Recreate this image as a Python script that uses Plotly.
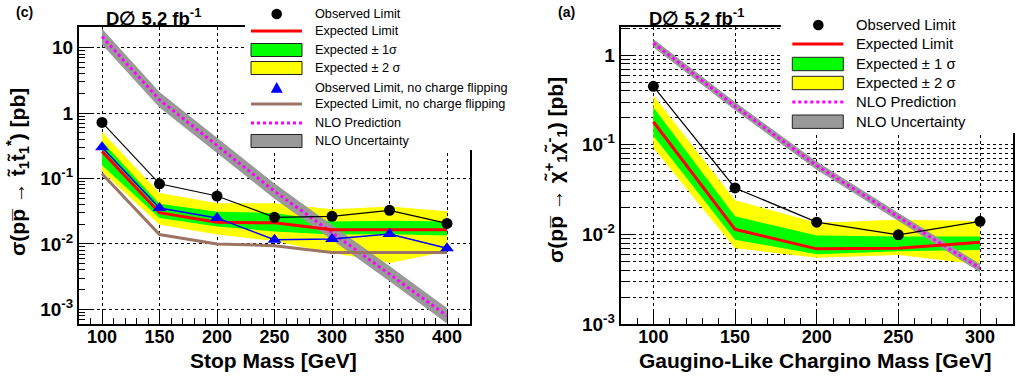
import plotly.graph_objects as go

# ---------------- data: left panel (stop) ----------------
stop_mass = [100, 150, 200, 250, 300, 350, 400]
stop_obs = [0.72, 0.083, 0.054, 0.0255, 0.0264, 0.0326, 0.0206]
stop_exp = [0.26, 0.030, 0.0214, 0.021, 0.0165, 0.0165, 0.0165]
stop_1s_hi = [0.37, 0.041, 0.031, 0.0297, 0.022, 0.0226, 0.022]
stop_1s_lo = [0.16, 0.025, 0.0185, 0.0155, 0.0139, 0.014, 0.0134]
stop_2s_hi = [0.52, 0.060, 0.042, 0.042, 0.034, 0.0375, 0.0315]
stop_2s_lo = [0.128, 0.0197, 0.0139, 0.011, 0.0073, 0.0051, 0.0077]
stop_obs_ncf = [0.30, 0.0354, 0.025, 0.0116, 0.0119, 0.0142, 0.0086]
stop_exp_ncf = [0.118, 0.0139, 0.0100, 0.0094, 0.0074, 0.0074, 0.0074]
stop_nlo = [14.8, 1.6, 0.32, 0.064, 0.0149, 0.0035, 0.0008]
stop_nlo_hi = [19.5, 2.1, 0.42, 0.084, 0.0195, 0.0046, 0.00105]
stop_nlo_lo = [11.2, 1.22, 0.245, 0.049, 0.0114, 0.0027, 0.00061]

# ---------------- data: right panel (chargino) ----------------
ch_mass = [100, 150, 200, 250, 300]
ch_obs = [0.45, 0.033, 0.0137, 0.0099, 0.014]
ch_exp = [0.181, 0.0114, 0.0069, 0.0070, 0.0082]
ch_1s_hi = [0.263, 0.0159, 0.0097, 0.0095, 0.0095]
ch_1s_lo = [0.126, 0.0087, 0.0060, 0.0065, 0.0067]
ch_2s_hi = [0.355, 0.024, 0.0135, 0.0146, 0.0141]
ch_2s_lo = [0.092, 0.0070, 0.0055, 0.0059, 0.0046]
ch_nlo = [1.37, 0.27, 0.0586, 0.0157, 0.0042]
ch_nlo_hi = [1.52, 0.30, 0.065, 0.0174, 0.00466]
ch_nlo_lo = [1.23, 0.243, 0.0528, 0.0141, 0.00378]

stop_xticks = [100, 150, 200, 250, 300, 350, 400]
ch_xticks = [100, 150, 200, 250, 300]
stop_yticks = [1e-3, 1e-2, 1e-1, 1, 10]
stop_ytext = ["10<sup>-3</sup>", "10<sup>-2</sup>", "10<sup>-1</sup>", "1", "10"]
ch_yticks = [1e-3, 1e-2, 1e-1, 1]
ch_ytext = ["10<sup>-3</sup>", "10<sup>-2</sup>", "10<sup>-1</sup>", "1"]

legend_left = ["Observed Limit", "Expected Limit", "Expected ± 1σ", "Expected ± 2 σ",
               "Observed Limit, no charge flipping", "Expected Limit, no charge flipping",
               "NLO Prediction", "NLO Uncertainty"]
legend_right = ["Observed Limit", "Expected Limit", "Expected ± 1 σ", "Expected ± 2 σ",
                "NLO Prediction", "NLO Uncertainty"]

YELLOW = "#ffff00"
GREEN = "#00ff00"
RED = "#ff0000"
BLUE = "#0000ff"
BROWN = "#9c7463"
MAGENTA = "#ff00ff"
GREY = "#999999"
FONT = "Liberation Sans, Arial, Helvetica, sans-serif"

W, H = 1016, 377


def px(x):
    return x / W


def py(y):
    return 1 - y / H


fig = go.Figure()


def band(x, lo, hi, color, xa, ya):
    fig.add_trace(go.Scatter(x=list(x) + list(x)[::-1], y=list(hi) + list(lo)[::-1],
                             fill="toself", fillcolor=color, mode="lines",
                             line=dict(width=0, color=color), xaxis=xa, yaxis=ya,
                             hoverinfo="skip", showlegend=False))


def line(x, y, color, width, xa, ya, dash="solid", marker=None):
    mode = "lines+markers" if marker else "lines"
    fig.add_trace(go.Scatter(x=x, y=y, mode=mode, line=dict(color=color, width=width, dash=dash),
                             marker=marker, xaxis=xa, yaxis=ya, showlegend=False))


# left panel
band(stop_mass, stop_2s_lo, stop_2s_hi, YELLOW, "x", "y")
band(stop_mass, stop_1s_lo, stop_1s_hi, GREEN, "x", "y")
band(stop_mass, stop_nlo_lo, stop_nlo_hi, GREY, "x", "y")
line(stop_mass, stop_nlo, MAGENTA, 3, "x", "y", dash="dot")
line(stop_mass, stop_exp_ncf, BROWN, 3, "x", "y")
line(stop_mass, stop_exp, RED, 3, "x", "y")
line(stop_mass, stop_obs_ncf, BLUE, 1.5, "x", "y",
     marker=dict(symbol="triangle-up", size=12, color=BLUE))
line(stop_mass, stop_obs, "black", 1.2, "x", "y",
     marker=dict(symbol="circle", size=11, color="black"))

# right panel
band(ch_mass, ch_2s_lo, ch_2s_hi, YELLOW, "x2", "y2")
band(ch_mass, ch_1s_lo, ch_1s_hi, GREEN, "x2", "y2")
band(ch_mass, ch_nlo_lo, ch_nlo_hi, GREY, "x2", "y2")
line(ch_mass, ch_nlo, MAGENTA, 3, "x2", "y2", dash="dot")
line(ch_mass, ch_exp, RED, 3, "x2", "y2")
line(ch_mass, ch_obs, "black", 1.2, "x2", "y2",
     marker=dict(symbol="circle", size=11, color="black"))

minor_log = [k * 10 ** e for e in range(-4, 2) for k in range(2, 10)]

axis_common = dict(showline=True, linecolor="black", linewidth=2, mirror=True,
                   ticks="inside", tickcolor="black", tickwidth=1, ticklen=12,
                   showgrid=True, gridcolor="black", griddash="dot", gridwidth=1,
                   zeroline=False,
                   tickfont=dict(family=FONT, size=18, color="black", weight="bold"))

ydom = [1 - 324 / H, 1 - 27 / H]

fig.update_layout(
    width=W, height=H, margin=dict(l=0, r=0, t=0, b=0),
    paper_bgcolor="white", plot_bgcolor="white", showlegend=False,
    xaxis=dict(axis_common, domain=[79 / W, 470 / W], range=[80, 420], anchor="y",
               tickmode="array", tickvals=stop_xticks, automargin=False, ticklabelstandoff=-5,
               minor=dict(ticks="inside", ticklen=6, dtick=10, tick0=0, tickcolor="black",
                          showgrid=False)),
    yaxis=dict(axis_common, domain=ydom, type="log", range=[-3.224, 1.316], anchor="x",
               tickmode="array", tickvals=stop_yticks, ticktext=stop_ytext, automargin=False,
               tickfont=dict(family=FONT, size=19, color="black", weight="bold"),
               minor=dict(ticks="inside", ticklen=6, tickmode="array", tickvals=minor_log,
                          tickcolor="black", showgrid=False)),
    xaxis2=dict(axis_common, domain=[620.7 / W, 1012.7 / W], range=[80, 320], anchor="y2",
                tickmode="array", tickvals=ch_xticks, automargin=False, ticklabelstandoff=-5,
                minor=dict(ticks="inside", ticklen=6, dtick=10, tick0=0, tickcolor="black",
                           showgrid=False)),
    yaxis2=dict(axis_common, domain=ydom, type="log", range=[-3, 0.315], anchor="x2",
                tickmode="array", tickvals=ch_yticks, ticktext=ch_ytext, automargin=False,
                tickfont=dict(family=FONT, size=19, color="black", weight="bold"),
                minor=dict(ticks="inside", ticklen=6, tickmode="array", tickvals=minor_log,
                           tickcolor="black", showgrid=True, gridcolor="black",
                           griddash="dot", gridwidth=1)),
)

shapes = []
annotations = []


def text(x, y, s, size, bold=False, anchor="left", angle=0):
    annotations.append(dict(x=px(x), y=py(y), xref="paper", yref="paper", text=s,
                            showarrow=False, xanchor=anchor, yanchor="middle", textangle=angle,
                            font=dict(family=FONT, size=size, color="black",
                                      weight="bold" if bold else "normal")))


def rect(x0, y0, x1, y1, fill, border=None):
    shapes.append(dict(type="rect", xref="paper", yref="paper", x0=px(x0), x1=px(x1),
                       y0=py(y1), y1=py(y0), fillcolor=fill, layer="above",
                       line=dict(width=1 if border else 0, color=border or fill)))


def hline(x0, x1, y, color, width, dash="solid"):
    shapes.append(dict(type="line", xref="paper", yref="paper", x0=px(x0), x1=px(x1),
                       y0=py(y), y1=py(y), layer="above",
                       line=dict(color=color, width=width, dash=dash)))


def circle(cx, cy, r, color):
    shapes.append(dict(type="circle", xref="paper", yref="paper", x0=px(cx - r), x1=px(cx + r),
                       y0=py(cy + r), y1=py(cy - r), fillcolor=color, layer="above",
                       line=dict(width=0, color=color)))


def triangle(cx, cy, r, color):
    p = "M {},{} L {},{} L {},{} Z".format(px(cx - r), py(cy + r * 0.8), px(cx + r), py(cy + r * 0.8),
                                        px(cx), py(cy - r))
    shapes.append(dict(type="path", xref="paper", yref="paper", path=p, fillcolor=color,
                       layer="above", line=dict(width=0, color=color)))


# ---- left legend ----
rect(245, 0, 512, 150, "white")
L_rows = [14, 31, 50, 68, 88, 104, 123, 141]
lx0, lx1, lc, lt = 251, 302, 276.7, 312.7
circle(lc, L_rows[0], 5.3, "black")
hline(lx0, lx1, L_rows[1], RED, 3)
rect(lx0, L_rows[2] - 6.5, lx1, L_rows[2] + 6.5, GREEN, "#222222")
rect(lx0, L_rows[3] - 6.5, lx1, L_rows[3] + 6.5, YELLOW, "#222222")
triangle(lc, L_rows[4], 6, BLUE)
hline(lx0, lx1, L_rows[5], BROWN, 3)
hline(lx0, lx1, L_rows[6], MAGENTA, 3, dash="dot")
rect(lx0, L_rows[7] - 6.5, lx1, L_rows[7] + 6.5, GREY, "#222222")
for r, s in zip(L_rows, legend_left):
    text(lt, r, s, 12.7)

# ---- right legend ----
rect(781, 0, 1016, 133, "white")
R_rows = [25, 44, 64, 83, 102, 121.7]
rx0, rx1, rc, rt = 792.3, 843.3, 818.3, 854.3
circle(rc, R_rows[0], 5.3, "black")
hline(rx0, rx1, R_rows[1], RED, 3)
rect(rx0, R_rows[2] - 6.7, rx1, R_rows[2] + 6.7, GREEN, "#222222")
rect(rx0, R_rows[3] - 6.7, rx1, R_rows[3] + 6.7, YELLOW, "#222222")
hline(rx0, rx1, R_rows[4], MAGENTA, 3, dash="dot")
rect(rx0, R_rows[5] - 6.7, rx1, R_rows[5] + 6.7, GREY, "#222222")
for r, s in zip(R_rows, legend_right):
    text(rt, r, s, 14.8)

# ---- titles and labels ----
text(24, 12, "(c)", 14, bold=True, anchor="center")
text(566, 12, "(a)", 14, bold=True, anchor="center")
text(153, 17, "D\u2205 5.2 fb<sup>-1</sup>", 18.5, bold=True, anchor="center")
text(696, 17, "D\u2205 5.2 fb<sup>-1</sup>", 18.5, bold=True, anchor="center")
text(273, 360, "Stop Mass [GeV]", 21, bold=True, anchor="center")
text(815, 360, "Gaugino-Like Chargino Mass [GeV]", 21, bold=True, anchor="center")
text(17, 172, "\u03c3(pp\u0305 \u2192 t\u0303<sub>1</sub>t\u0303<sub>1</sub><sup>*</sup>) [pb]", 21,
     bold=True, anchor="center", angle=-90)
text(556, 170, "\u03c3(pp\u0305 \u2192 \u03c7\u0303<sup>+</sup><sub>1</sub>\u03c7\u0303<sup>-</sup><sub>1</sub>) [pb]", 21,
     bold=True, anchor="center", angle=-90)

fig.update_layout(shapes=shapes, annotations=annotations)
fig.write_html("out.html", config={"displayModeBar": False},
               post_script="document.body.style.margin='0px';document.body.style.overflow='hidden';")
